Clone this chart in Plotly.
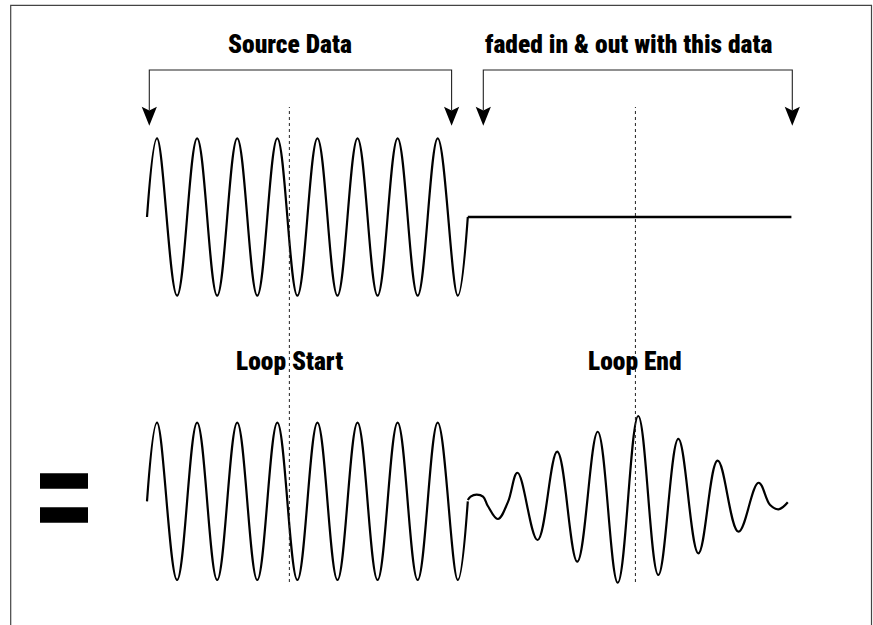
import plotly.graph_objects as go

# ---------------- data (time in waveform cycles, amplitude normalised) ----------------
# source sine: start, then peaks / troughs, then end of the source block
source_t = [0.0, 0.25, 0.75, 1.25, 1.75, 2.25, 2.75, 3.25, 3.75, 4.25, 4.75,
            5.25, 5.75, 6.25, 6.75, 7.25, 7.75, 8.0]
source_v = [0.0, 1.0, -1.0, 1.0, -1.0, 1.0, -1.0, 1.0, -1.0, 1.0, -1.0,
            1.0, -1.0, 1.0, -1.0, 1.0, -1.0, 0.0]

silence_t = [8.0, 16.07]
silence_v = [0.0, 0.0]

# crossfaded data after the source block
faded_t = [8.0, 8.07, 8.22, 8.38, 8.5, 8.75, 9.0, 9.24, 9.74, 10.23, 10.73,
           11.24, 11.74, 12.25, 12.75, 13.25, 13.75, 14.23, 14.75, 15.25,
           15.54, 15.75, 15.98]
faded_v = [0.016, 0.06, 0.085, 0.06, -0.06, -0.225, -0.01, 0.363, -0.492,
           0.63, -0.767, 0.884, -1.034, 1.084, -0.936, 0.792, -0.661, 0.516,
           -0.386, 0.236, -0.047, -0.102, -0.013]

loop_points = [3.55, 12.18]
loop_labels = ["Loop Start", "Loop End"]
bracket_labels = ["Source Data", "faded in & out with this data"]

# ---------------- geometry (pixels of the 873x625 canvas) ----------------
W, H = 873, 625
T0_PX, PX_PER_CYCLE = 147.0, 40.1
TOP_CENTER, BOT_CENTER, AMP_PX = 217.0, 501.3, 78.7


def px(x):
    return x / W


def py(y):
    return 1 - y / H


x_range = [-T0_PX / PX_PER_CYCLE, (W - T0_PX) / PX_PER_CYCLE]
y_top_range = [(TOP_CENTER - H) / AMP_PX, TOP_CENTER / AMP_PX]
y_bot_range = [(BOT_CENTER - H) / AMP_PX, BOT_CENTER / AMP_PX]

LINE = dict(color="black", width=2.2, shape="spline", smoothing=1.1)

fig = go.Figure()
fig.add_trace(go.Scatter(x=source_t, y=source_v, mode="lines", line=LINE,
                         yaxis="y", hoverinfo="skip"))
fig.add_trace(go.Scatter(x=silence_t, y=silence_v, mode="lines",
                         line=dict(color="black", width=2.6), yaxis="y",
                         hoverinfo="skip"))
fig.add_trace(go.Scatter(x=source_t, y=source_v, mode="lines", line=LINE,
                         yaxis="y2", hoverinfo="skip"))
fig.add_trace(go.Scatter(x=faded_t, y=faded_v, mode="lines", line=LINE,
                         yaxis="y2", hoverinfo="skip"))

shapes = []
# frame (left, top, right; bottom runs off the canvas)
shapes.append(dict(type="rect", xref="paper", yref="paper",
                   x0=px(10.7), x1=px(871.5), y0=py(640), y1=py(5.3),
                   line=dict(color="#444444", width=1.2)))
# loop markers
for lp in loop_points:
    shapes.append(dict(type="line", xref="x", yref="paper", x0=lp, x1=lp,
                       y0=py(582), y1=py(107),
                       line=dict(color="#222222", width=1, dash="3px,3px")))
# brackets with arrowheads
BRACKET_Y, BACK_Y, NOTCH_Y, TIP_Y, HALF_W = 70, 106.7, 110.5, 125.7, 7.6
for a, b in [(149.3, 451.6), (483.3, 792.3)]:
    shapes.append(dict(type="path", xref="paper", yref="paper",
                       path=(f"M{px(a)},{py(NOTCH_Y)} L{px(a)},{py(BRACKET_Y)} "
                             f"L{px(b)},{py(BRACKET_Y)} L{px(b)},{py(NOTCH_Y)}"),
                       line=dict(color="#222222", width=1.1)))
    for xa in (a, b):
        shapes.append(dict(type="path", xref="paper", yref="paper",
                           path=(f"M{px(xa - HALF_W)},{py(BACK_Y)} "
                                 f"L{px(xa)},{py(NOTCH_Y)} "
                                 f"L{px(xa + HALF_W)},{py(BACK_Y)} "
                                 f"L{px(xa)},{py(TIP_Y)} Z"),
                           fillcolor="black", line=dict(width=0)))
# equals sign
for y0, y1 in [(473.3, 488.8), (507.2, 522.7)]:
    shapes.append(dict(type="rect", xref="paper", yref="paper",
                       x0=px(40), x1=px(88), y0=py(y1), y1=py(y0),
                       fillcolor="black", line=dict(width=0)))

FONT = dict(family="Roboto Condensed, Open Sans Condensed, sans-serif",
            size=25.5, color="black", weight=900)

annotations = []
for xc, label in zip([290, 628.6], bracket_labels):
    annotations.append(dict(xref="paper", yref="paper", x=px(xc), y=py(43.8),
                            text=label, showarrow=False, font=FONT,
                            xanchor="center", yanchor="middle"))
for lp, label in zip(loop_points, loop_labels):
    annotations.append(dict(xref="x", yref="paper", x=lp, y=py(360.5),
                            text=label, showarrow=False, font=FONT,
                            xanchor="center", yanchor="middle"))

fig.update_layout(
    width=W, height=H,
    margin=dict(l=0, r=0, t=0, b=0),
    paper_bgcolor="white", plot_bgcolor="white",
    showlegend=False,
    xaxis=dict(range=x_range, visible=False, fixedrange=True),
    yaxis=dict(range=y_top_range, visible=False, domain=[0, 1], fixedrange=True),
    yaxis2=dict(range=y_bot_range, visible=False, overlaying="y", fixedrange=True),
    shapes=shapes,
    annotations=annotations,
)

fig.write_html("out.html", config={"displayModeBar": False},
               post_script="document.body.style.margin='0';document.body.style.overflow='hidden';")
